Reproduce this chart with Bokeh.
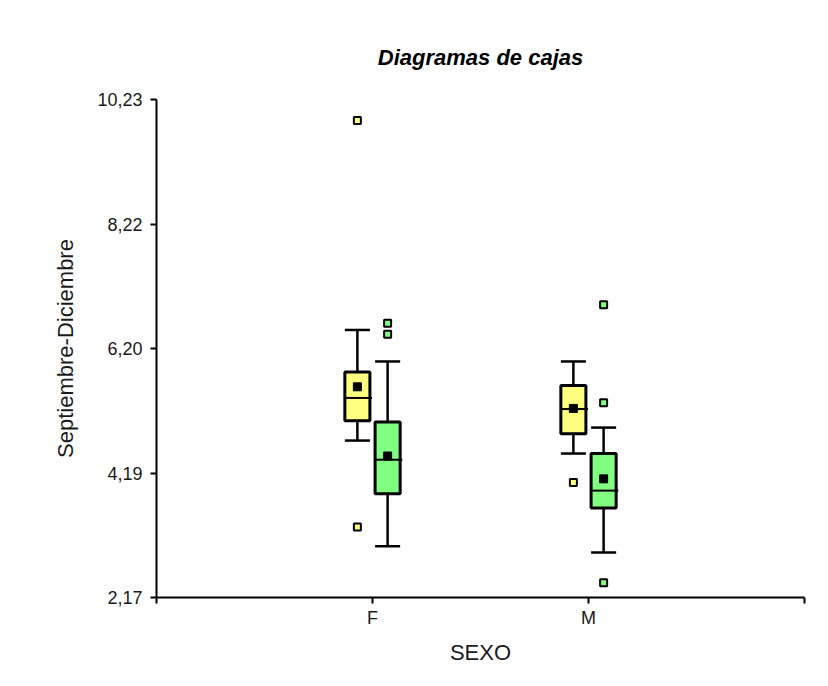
from bokeh.plotting import figure
from bokeh.models import FixedTicker, Range1d, ColumnDataSource
from bokeh.embed import file_html
from bokeh.resources import INLINE

# ---- data ----
groups = ["F", "M"]
group_pos = [1, 2]

# series A (yellow)
a_low = [4.71, 4.50]
a_q1 = [5.03, 4.82]
a_med = [5.40, 5.22]
a_q3 = [5.82, 5.60]
a_high = [6.50, 5.99]
a_mean = [5.58, 5.23]
a_out_group = ["F", "F", "M"]
a_out_val = [3.31, 9.89, 4.03]

# series B (green)
b_low = [3.00, 2.90]
b_q1 = [3.85, 3.62]
b_med = [4.40, 3.90]
b_q3 = [5.01, 4.50]
b_high = [5.99, 4.92]
b_mean = [4.46, 4.09]
b_out_group = ["F", "F", "M", "M", "M"]
b_out_val = [6.43, 6.61, 2.41, 5.32, 6.91]

y_ticks = [2.17, 4.185, 6.20, 8.215, 10.23]
y_tick_labels = ["2,17", "4,19", "6,20", "8,22", "10,23"]

FONT = "Liberation Sans"
W = 812
H = 670
p = figure(width=W, height=H, output_backend="svg", toolbar_location=None,
           x_range=Range1d(0, 3), y_range=Range1d(2.17, 10.23),
           min_border_left=156, min_border_right=8, min_border_top=99,
           min_border_bottom=73)
p.outline_line_color = None
p.grid.visible = False
p.background_fill_color = "white"
p.border_fill_color = "white"

offset = 0.07
bw = 0.116
pos_map = dict(zip(groups, group_pos))

def draw(series_off, low, q1, med, q3, high, mean, out_g, out_v, color):
    xs = [pos_map[g] + series_off for g in groups]
    src = ColumnDataSource(dict(x=xs, low=low, q1=q1, med=med, q3=q3, high=high, mean=mean,
                                xl=[x - bw / 2 for x in xs], xr=[x + bw / 2 for x in xs],
                                xr2=[x + bw / 2 + 0.01 for x in xs]))
    # whiskers
    p.segment("x", "q3", "x", "high", source=src, line_color="black", line_width=2.5)
    p.segment("x", "low", "x", "q1", source=src, line_color="black", line_width=2.5)
    p.segment("xl", "high", "xr", "high", source=src, line_color="black", line_width=2.5)
    p.segment("xl", "low", "xr", "low", source=src, line_color="black", line_width=2.5)
    # box
    p.vbar(x="x", width=bw, bottom="q1", top="q3", source=src, fill_color=color,
           line_color="black", line_width=3)
    # median
    p.segment("xl", "med", "xr2", "med", source=src, line_color="black", line_width=2)
    # mean
    p.scatter("x", "mean", source=src, marker="square", size=8, fill_color="black",
              line_color="black")
    # outliers
    ox = [pos_map[g] + series_off for g in out_g]
    p.scatter(ox, out_v, marker="square", size=7, fill_color=color, line_color="black",
              line_width=2)

draw(-offset, a_low, a_q1, a_med, a_q3, a_high, a_mean, a_out_group, a_out_val, "#FFFF80")
draw(offset, b_low, b_q1, b_med, b_q3, b_high, b_mean, b_out_group, b_out_val, "#80FF80")

# axes
p.xaxis.ticker = FixedTicker(ticks=[0, 1, 2, 3])
p.xaxis.major_label_overrides = {0: "", 1: groups[0], 2: groups[1], 3: ""}
p.yaxis.ticker = FixedTicker(ticks=y_ticks)
p.yaxis.major_label_overrides = {t: l for t, l in zip(y_ticks, y_tick_labels)}
for ax in (p.xaxis, p.yaxis):
    ax.axis_line_width = 2
    ax.axis_line_color = "black"
    ax.major_tick_line_width = 2
    ax.major_tick_line_color = "black"
    ax.major_tick_in = 0
    ax.major_tick_out = 6
    ax.minor_tick_line_color = None
    ax.major_label_text_font = FONT
    ax.major_label_text_font_size = "18px"
    ax.major_label_text_color = "#1a1a1a"
    ax.axis_label_text_font = FONT
    ax.axis_label_text_font_size = "22px"
    ax.axis_label_text_font_style = "normal"
    ax.axis_label_text_color = "#1a1a1a"
p.xaxis.major_label_standoff = 4
p.yaxis.major_label_standoff = 8
p.xaxis.axis_label = "SEXO"
p.yaxis.axis_label = "Septiembre-Diciembre"
p.xaxis.axis_label_standoff = 9
p.yaxis.axis_label_standoff = 16

p.title.text = "Diagramas de cajas"
p.title.text_font = FONT
p.title.text_font_size = "22px"
p.title.text_font_style = "bold italic"
p.title.text_color = "black"
p.title.align = "center"
p.title.standoff = 60

open("out.html", "w").write(file_html(p, INLINE))
